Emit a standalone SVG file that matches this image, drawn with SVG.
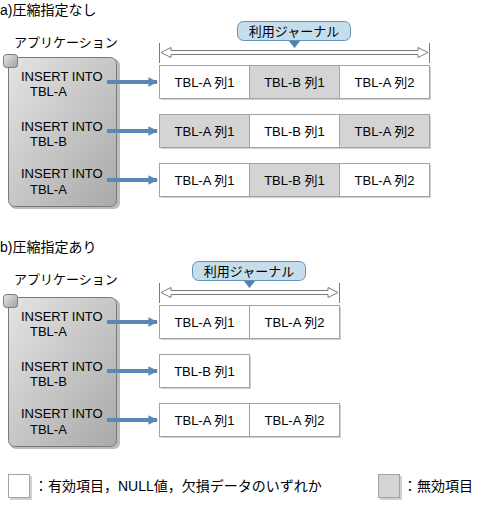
<svg xmlns="http://www.w3.org/2000/svg" width="485" height="508" viewBox="0 0 485 508">
<defs>
<linearGradient id="boxg" x1="0" y1="0" x2="1" y2="1">
<stop offset="0" stop-color="#e4e4e4"/>
<stop offset="1" stop-color="#a9a9a9"/>
</linearGradient>
<linearGradient id="sqg" x1="0" y1="0" x2="1" y2="1">
<stop offset="0" stop-color="#e8e8e8"/>
<stop offset="1" stop-color="#a0a0a0"/>
</linearGradient>
<marker id="ah" viewBox="0 0 10 10" refX="9" refY="5" markerWidth="2.4" markerHeight="2.6" orient="auto" markerUnits="strokeWidth">
<path d="M0,0 L10,5 L0,10 z" fill="#5b87b2"/>
</marker>
</defs>
<style>
text{font-family:"Liberation Sans","Noto Sans CJK JP",sans-serif;fill:#000}
.t14{font-size:14px}
.t13{font-size:13px}
.mid{text-anchor:middle}
.box{fill:url(#boxg);stroke:#7a7a7a;stroke-width:1}
.boxsh{fill:#bdbdbd}
.sq{fill:url(#sqg);stroke:#7a7a7a;stroke-width:1}
.w{fill:#ffffff;stroke:#a3a3a3;stroke-width:1}
.g{fill:#d4d4d4;stroke:#a3a3a3;stroke-width:1}
.sh{fill:#d0d0d0}
.conn{stroke:#5b87b2;stroke-width:4;fill:none;marker-end:url(#ah)}
.call{fill:#c6ddec;stroke:#5f93bb;stroke-width:1}
.ptr{fill:#4f7fab}
.hol{fill:#fff;stroke:#7a7a7a;stroke-width:1}
.tick{stroke:#7a7a7a;stroke-width:1}
</style>

<!-- Section a -->
<text class="t14" x="0" y="15">a)圧縮指定なし</text>
<g id="app-a">
<text class="t13" x="14" y="47">アプリケーション</text>
<rect class="boxsh" x="10" y="59" width="110" height="150" rx="6"/>
<rect class="box" x="8.5" y="57.5" width="108" height="149" rx="6"/>
<rect class="sq" x="3.5" y="54.5" width="14" height="13" rx="3"/>
<text class="t13" x="21" y="81">INSERT INTO</text>
<text class="t13" x="30" y="96">TBL-A</text>
<text class="t13" x="21" y="131">INSERT INTO</text>
<text class="t13" x="30" y="146">TBL-B</text>
<text class="t13" x="21" y="178">INSERT INTO</text>
<text class="t13" x="30" y="194">TBL-A</text>
</g>
<g id="journal-a">
<line class="tick" x1="159.5" y1="43" x2="159.5" y2="63"/>
<line class="tick" x1="429.5" y1="43" x2="429.5" y2="63"/>
<polygon class="hol" points="161,52.5 171,47.5 171,50.5 418,50.5 418,47.5 428,52.5 418,57.5 418,54.5 171,54.5 171,57.5"/>
<rect class="call" x="237.5" y="21.5" width="113" height="19" rx="6"/>
<polygon class="ptr" points="289,41 300,41 294.5,48"/>
<text class="t13 mid" x="294" y="36">利用ジャーナル</text>
</g>
<g id="row-a1">
<rect class="sh" x="161" y="67" width="270" height="33"/>
<rect class="w" x="159.5" y="65.5" width="90" height="33"/>
<rect class="g" x="249.5" y="65.5" width="90" height="33"/>
<rect class="w" x="339.5" y="65.5" width="90" height="33"/>
<text class="t13 mid" x="204.5" y="87">TBL-A 列1</text>
<text class="t13 mid" x="294.5" y="87">TBL-B 列1</text>
<text class="t13 mid" x="384.5" y="87">TBL-A 列2</text>
</g>
<g id="row-a2">
<rect class="sh" x="161" y="116" width="270" height="33"/>
<rect class="g" x="159.5" y="114.5" width="90" height="33"/>
<rect class="w" x="249.5" y="114.5" width="90" height="33"/>
<rect class="g" x="339.5" y="114.5" width="90" height="33"/>
<text class="t13 mid" x="204.5" y="136">TBL-A 列1</text>
<text class="t13 mid" x="294.5" y="136">TBL-B 列1</text>
<text class="t13 mid" x="384.5" y="136">TBL-A 列2</text>
</g>
<g id="row-a3">
<rect class="sh" x="161" y="165" width="270" height="33"/>
<rect class="w" x="159.5" y="163.5" width="90" height="33"/>
<rect class="g" x="249.5" y="163.5" width="90" height="33"/>
<rect class="w" x="339.5" y="163.5" width="90" height="33"/>
<text class="t13 mid" x="204.5" y="185">TBL-A 列1</text>
<text class="t13 mid" x="294.5" y="185">TBL-B 列1</text>
<text class="t13 mid" x="384.5" y="185">TBL-A 列2</text>
</g>

<!-- Section b -->
<text class="t14" x="0" y="252">b)圧縮指定あり</text>
<g id="app-b">
<text class="t13" x="14" y="284">アプリケーション</text>
<rect class="boxsh" x="10" y="299" width="110" height="150" rx="6"/>
<rect class="box" x="8.5" y="297.5" width="108" height="149" rx="6"/>
<rect class="sq" x="3.5" y="294.5" width="14" height="13" rx="3"/>
<text class="t13" x="21" y="321">INSERT INTO</text>
<text class="t13" x="30" y="336">TBL-A</text>
<text class="t13" x="21" y="371">INSERT INTO</text>
<text class="t13" x="30" y="386">TBL-B</text>
<text class="t13" x="21" y="418">INSERT INTO</text>
<text class="t13" x="30" y="434">TBL-A</text>
</g>
<g id="journal-b">
<line class="tick" x1="159.5" y1="283" x2="159.5" y2="303"/>
<line class="tick" x1="339.5" y1="283" x2="339.5" y2="303"/>
<polygon class="hol" points="161,292.5 171,287.5 171,290.5 328,290.5 328,287.5 338,292.5 328,297.5 328,294.5 171,294.5 171,297.5"/>
<rect class="call" x="192.5" y="261.5" width="113" height="19" rx="6"/>
<polygon class="ptr" points="244,281 255,281 249.5,288"/>
<text class="t13 mid" x="249" y="276">利用ジャーナル</text>
</g>
<g id="row-b1">
<rect class="sh" x="161" y="307" width="180" height="33"/>
<rect class="w" x="159.5" y="305.5" width="90" height="33"/>
<rect class="w" x="249.5" y="305.5" width="90" height="33"/>
<text class="t13 mid" x="204.5" y="327">TBL-A 列1</text>
<text class="t13 mid" x="294.5" y="327">TBL-A 列2</text>
</g>
<g id="row-b2">
<rect class="sh" x="161" y="356" width="90" height="33"/>
<rect class="w" x="159.5" y="354.5" width="90" height="33"/>
<text class="t13 mid" x="204.5" y="376">TBL-B 列1</text>
</g>
<g id="row-b3">
<rect class="sh" x="161" y="405" width="180" height="33"/>
<rect class="w" x="159.5" y="403.5" width="90" height="33"/>
<rect class="w" x="249.5" y="403.5" width="90" height="33"/>
<text class="t13 mid" x="204.5" y="425">TBL-A 列1</text>
<text class="t13 mid" x="294.5" y="425">TBL-A 列2</text>
</g>

<g id="connectors">
<line class="conn" x1="107" y1="82" x2="157" y2="82"/>
<line class="conn" x1="107" y1="131" x2="157" y2="131"/>
<line class="conn" x1="107" y1="180" x2="157" y2="180"/>
<line class="conn" x1="107" y1="322" x2="157" y2="322"/>
<line class="conn" x1="107" y1="371" x2="157" y2="371"/>
<line class="conn" x1="107" y1="420" x2="157" y2="420"/>
</g>

<g id="legend">
<rect class="sh" x="10" y="476" width="22" height="24"/>
<rect class="w" x="8.5" y="474.5" width="21" height="23"/>
<text class="t14" x="34" y="491">：有効項目，NULL値，欠損データのいずれか</text>
<rect class="sh" x="380" y="476" width="22" height="24"/>
<rect class="g" x="378.5" y="474.5" width="21" height="23"/>
<text class="t14" x="403" y="491">：無効項目</text>
</g>
</svg>
